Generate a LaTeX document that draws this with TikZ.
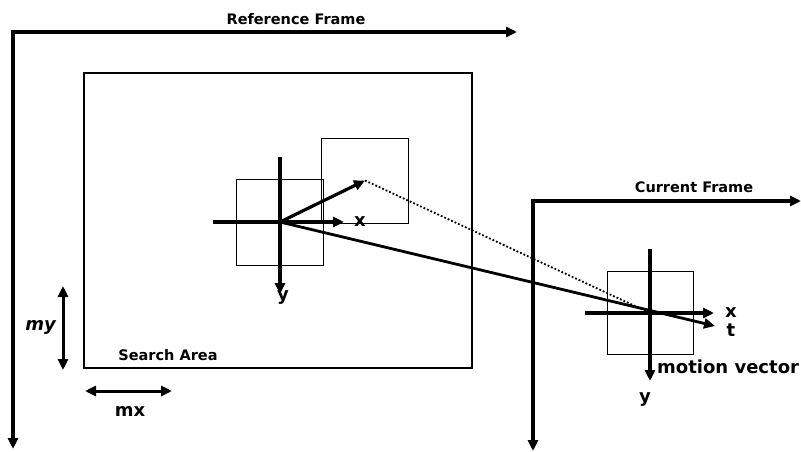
\documentclass[tikz,border=0pt]{standalone}
\usepackage{fontspec}
\setmainfont{DejaVu Sans}
\usetikzlibrary{arrows.meta, calc, positioning}

\begin{document}
\begin{tikzpicture}[x=1pt, y=-1pt,
  >={Triangle[length=11pt,width=10pt]},
  frm/.style={<->, line width=3.4pt, line join=miter},
  axis/.style={->, line width=3.2pt},
  blk/.style={draw, line width=1pt, inner sep=0pt, minimum width=87pt, minimum height=86pt},
  lbl/.style={font=\bfseries\fontsize{14.5}{16}\selectfont, inner sep=0pt},
  big/.style={font=\bfseries\fontsize{18}{20}\selectfont, inner sep=0pt},
]
\useasboundingbox (0,0) rectangle (801,452);
% Reference frame
\coordinate (rx) at (517,32);
\coordinate (ro) at (13,32);
\coordinate (ry) at (13,449);
\draw[frm] (rx) -- (ro) -- (ry);
\node[lbl] (rlab) at (296,19) {Reference Frame};
% Search area
\node[draw, line width=2.2pt, inner sep=0pt, minimum width=388pt, minimum height=295pt]
      (sa) at (278,220.5) {};
\node[lbl] (salab) at (168,355) {Search Area};
% Blocks in the reference frame
\node[blk] (b1) at (279.5,222) {};
\node[blk, minimum height=85pt] (b2) at (365,180.5) {};
% Block axes (reference)
\coordinate (c1) at (280,222);
\coordinate (c1w) at (213,222);
\coordinate (c1e) at (344,222);
\coordinate (c1n) at (280,157);
\coordinate (c1s) at (280,294);
\draw[line width=3.2pt] (c1w) -- (c1);
\draw[axis] (c1) -- (c1e);
\draw[axis] (c1n) -- (c1s);
\node[big] (x1) at (360,222) {x};
\node[big] (y1) at (283,298) {y};
% Current frame
\coordinate (cx) at (801,201);
\coordinate (co) at (533,201);
\coordinate (cy) at (533,451);
\draw[frm] (cx) -- (co) -- (cy);
\node[lbl] (clab) at (694,187) {Current Frame};
% Current block and axes
\node[blk, minimum width=86pt, minimum height=83pt] (b3) at (650,312.5) {};
\coordinate (c2) at (650,313);
\coordinate (c2w) at (585,313);
\coordinate (c2e) at (714,313);
\coordinate (c2n) at (650,249);
\coordinate (c2s) at (650,381);
\draw[line width=3.2pt] (c2w) -- (c2);
\draw[axis] (c2) -- (c2e);
\draw[axis] (c2n) -- (c2s);
\node[big] (x2) at (731,313) {x};
\node[big] (t2) at (731,330) {t};
\node[big] (y2) at (645,400) {y};
\node[big, anchor=west] (mv) at (657,367) {motion vector};
% Motion vector and search path
\coordinate (tt) at (715,326);
\draw[axis] (c1) -- (b2.center);
\draw[dotted, line width=1.8pt] (b2.center) -- (c2);
\draw[->, line width=2.8pt] (c1) -- (tt);
% Search range
\coordinate (myt) at (63,286);
\coordinate (myb) at (63,370);
\draw[<->, line width=3pt] (myt) -- (myb);
\node[big, font=\bfseries\itshape\fontsize{18}{20}\selectfont, anchor=east] (mylab) at (56,327) {my};
\coordinate (mxl) at (85,391);
\coordinate (mxr) at (172,391);
\draw[<->, line width=3pt] (mxl) -- (mxr);
\node[big] (mxlab) at (130,411) {mx};
\end{tikzpicture}
\end{document}
